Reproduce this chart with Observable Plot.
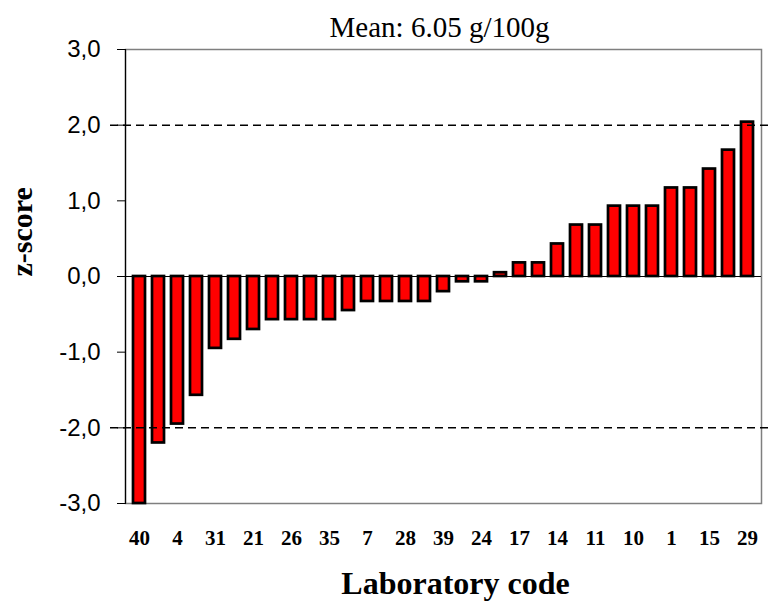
<!DOCTYPE html>
<html>
<head>
<meta charset="utf-8">
<script src="https://cdn.jsdelivr.net/npm/d3@7"></script>
<script src="https://cdn.jsdelivr.net/npm/@observablehq/plot@0.6"></script>
<style>
  html, body { margin: 0; padding: 0; background: #ffffff; }
</style>
</head>
<body>
<div id="chart"></div>
<script>
// Laboratory codes (only every other bar is labelled in the source; unlabelled = null)
const labCodes = ["40", null, "4", null, "31", null, "21", null, "26", null, "35", null,
  "7", null, "28", null, "39", null, "24", null, "17", null, "14", null, "11", null,
  "10", null, "1", null, "15", null, "29"];
// z-scores
const zScores = [-3.0, -2.2, -1.95, -1.57, -0.95, -0.83, -0.70, -0.57, -0.57, -0.57, -0.57,
  -0.45, -0.33, -0.33, -0.33, -0.33, -0.20, -0.07, -0.07, 0.05, 0.18, 0.18, 0.43,
  0.68, 0.68, 0.93, 0.93, 0.93, 1.17, 1.17, 1.42, 1.67, 2.04];
const yTicks = [-3, -2, -1, 0, 1, 2, 3];
const limits = [-2, 2];
const titleText = "Mean: 6.05 g/100g";
const xLabel = "Laboratory code";
const yLabel = "z-score";

const data = zScores.map((z, i) => ({i, z, code: labCodes[i]}));
const serif = "'Liberation Serif', 'Times New Roman', serif";
const sans = "'Liberation Sans', Arial, sans-serif";

const chart = Plot.plot({
  width: 770,
  height: 603,
  marginLeft: 125,
  marginRight: 9,
  marginTop: 49,
  marginBottom: 100,
  style: {background: "#ffffff", color: "#000000"},
  x: {type: "band", domain: d3.range(zScores.length), paddingInner: 0.36, paddingOuter: 0.1},
  y: {domain: [-3, 3]},
  marks: [
    Plot.frame({stroke: "#7f7f7f", strokeWidth: 1.5}),
    Plot.frame({anchor: "left", stroke: "#000000", strokeWidth: 1.2}),
    Plot.ruleY([0], {stroke: "#000000", strokeWidth: 1.2}),
    Plot.barY(data, {x: "i", y: "z", fill: "#ff0000", stroke: "#000000", strokeWidth: 2.7}),
    Plot.ruleY(limits, {stroke: "#000000", strokeWidth: 1.5, strokeDasharray: "8,5", insetLeft: -15, insetRight: -7}),
    Plot.axisY({ticks: yTicks, tickFormat: d => d.toFixed(1).replace(".", ","), tickSize: 8, tickPadding: 17,
      fontSize: 24, fontFamily: sans, label: null, stroke: "#000000"}),
    Plot.axisX({tickSize: 0, tickPadding: 27, tickFormat: i => labCodes[i] ?? "",
      fontSize: 21, fontWeight: "bold", fontFamily: serif, label: null}),
    Plot.text([titleText], {frameAnchor: "top", dy: -22, dx: -4, lineAnchor: "middle",
      fontSize: 29, fontFamily: serif}),
    Plot.text([xLabel], {frameAnchor: "bottom", dy: 80, dx: 12, lineAnchor: "middle",
      fontSize: 32, fontWeight: "bold", fontFamily: serif}),
    Plot.text([yLabel], {frameAnchor: "left", dx: -103, rotate: -90, lineAnchor: "middle",
      fontSize: 30, fontWeight: "bold", fontFamily: serif})
  ]
});
document.getElementById("chart").appendChild(chart);
</script>
</body>
</html>
